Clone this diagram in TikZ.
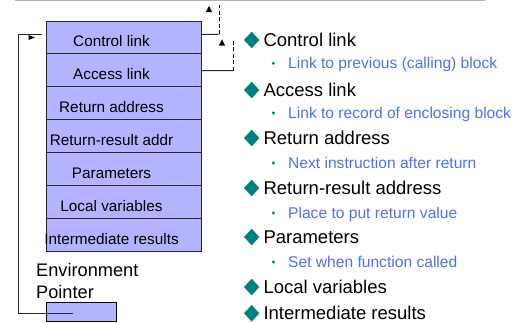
\documentclass[tikz,border=0pt]{standalone}
\usepackage{fontspec}
\setmainfont{Liberation Sans}
\definecolor{boxfill}{RGB}{179,179,255}
\definecolor{teal1}{RGB}{0,128,128}
\definecolor{subblue}{RGB}{80,112,240}
\definecolor{lineg}{RGB}{40,40,40}
\tikzset{
  row/.style={draw=lineg, line width=0.9pt, fill=boxfill, minimum width=155pt, minimum height=32.86pt, inner sep=0pt},
  rowtext/.style={anchor=base, inner sep=0pt, font=\fontsize{15.3}{18}\selectfont},
  mainitem/.style={anchor=base west, inner sep=0pt, font=\fontsize{18.5}{22}\selectfont},
  subitem/.style={anchor=base west, inner sep=0pt, text=subblue, font=\fontsize{15.6}{18}\selectfont},
  conn/.style={draw=lineg, line width=0.9pt},
  dconn/.style={draw=black, line width=0.9pt, dash pattern=on 4pt off 2.5pt},
}
\begin{document}
\begin{tikzpicture}[x=1pt,y=-1pt]
\useasboundingbox (0,0) rectangle (516,323);
% top gray rule
\draw[gray!60, line width=1.5pt] (15,0.75) -- (485,0.75);
% stack rows
\foreach \i/\t in {1/Control link,2/Access link,3/Return address,4/Return-result addr,5/Parameters,6/Local variables,7/Intermediate results}{
  \node[row] (r\i) at (123.5,{21+32.86*(\i-0.5)}) {};
}
\foreach \i/\t in {1/Control link,2/Access link,3/Return address,4/Return-result addr,5/Parameters,6/Local variables,7/Intermediate results}{
  \node[rowtext] (t\i) at (111.5,{21+32.86*(\i-1)+26}) {\t};
}
% environment pointer
\node[anchor=base west, inner sep=0pt, font=\fontsize{18.2}{21.5}\selectfont, align=left] (envtxt) at (36,276.5) {Environment};
\node[anchor=base west, inner sep=0pt, font=\fontsize{18.2}{21.5}\selectfont] (ptrtxt) at (36,298) {Pointer};
\node[draw=black, line width=0.9pt, fill=boxfill, minimum width=70pt, minimum height=19pt, inner sep=0pt] (ep) at (81,311.5) {};
\coordinate (epstart) at (73,313);
\coordinate (epcorner) at (18,313);
\coordinate (epend) at (41.7,34.3);
\draw[conn] (epstart) -- (epcorner) |- (epend);
\fill[black] (35,37.5) -- (28.5,35) -- (28.5,40) -- cycle;
% control link connector
\coordinate (cltop) at (219.3,5);
\coordinate (clbend) at (219.3,34.3);
\draw[conn] ([yshift=3.1pt]r1.east) -- (clbend);
\draw[dconn] (clbend) -- (cltop);
\fill[black] (209,6) -- (205.8,12.2) -- (212.2,12.2) -- cycle;
% access link connector
\coordinate (altop) at (233.7,40);
\coordinate (albend) at (233.7,70.7);
\draw[conn] ([yshift=-0.4pt]r2.east) -- (albend);
\draw[dconn] (albend) -- (altop);
\fill[black] (222,39.5) -- (218.8,45.7) -- (225.2,45.7) -- cycle;
% right-hand list
\foreach \c/\t [count=\k] in {40/Control link,90/Access link,138/Return address,188/Return-result address,237/Parameters,287/Local variables,313.3/Intermediate results}{
  \fill[teal1] (251.7,\c-8.3) -- (259.3,\c) -- (251.7,\c+8.3) -- (244,\c) -- cycle;
  \node[mainitem] (m\k) at (263.3,\c+6.6) {\t};
}
\foreach \c/\t [count=\k] in {63.3/Link to previous (calling) block,113/Link to record of enclosing block,163/Next instruction after return,213/Place to put return value,262/Set when function called}{
  \fill[teal1] (273.3,\c) circle (1.7);
  \node[subitem] (s\k) at (288,\c+5.6) {\t};
}
\end{tikzpicture}
\end{document}
